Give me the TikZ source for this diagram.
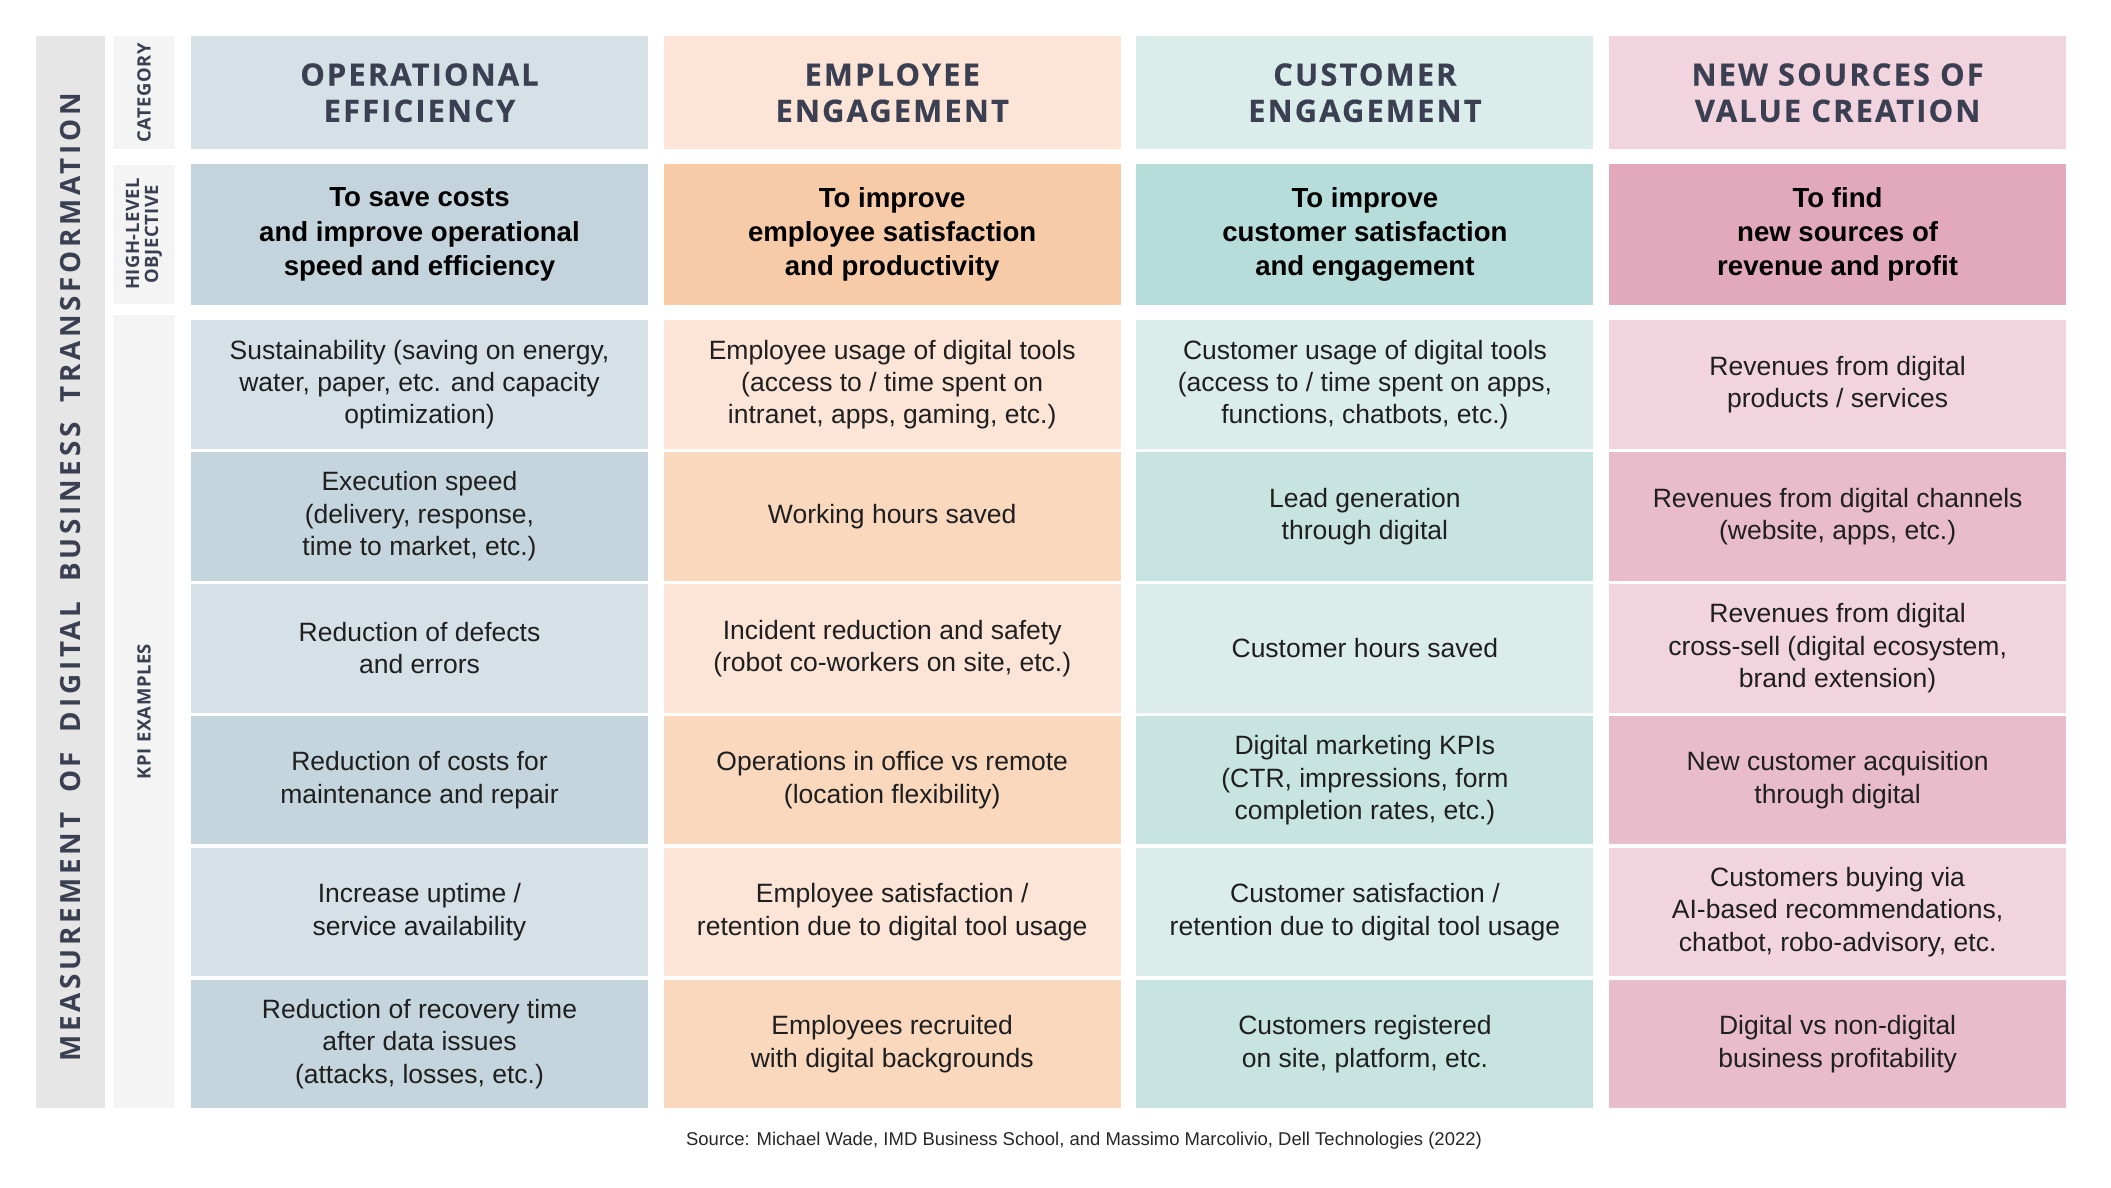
\documentclass[tikz,border=0pt]{standalone}
\usepackage{fontspec}
\setmainfont{Liberation Sans}
\newfontfamily\capsfont[LetterSpace=7,FakeBold=0.5]{Open Sans}
\newfontfamily\sidefont[LetterSpace=13.5,WordSpace=1.8]{Open Sans}
\newfontfamily\tagfont[LetterSpace=3]{Open Sans}
\usepackage{tikz}
\usetikzlibrary{positioning}
\definecolor{ink}{RGB}{59,63,82}
\definecolor{opA}{RGB}{214,225,231}
\definecolor{opB}{RGB}{196,213,221}
\definecolor{opO}{RGB}{195,212,220}
\definecolor{emA}{RGB}{252,228,214}
\definecolor{emB}{RGB}{249,216,190}
\definecolor{emO}{RGB}{248,203,168}
\definecolor{cuA}{RGB}{219,237,235}
\definecolor{cuB}{RGB}{199,228,225}
\definecolor{cuO}{RGB}{182,221,217}
\definecolor{nvA}{RGB}{242,212,223}
\definecolor{nvB}{RGB}{233,188,203}
\definecolor{nvO}{RGB}{226,168,187}
\definecolor{barA}{RGB}{230,230,230}
\definecolor{barB}{RGB}{244,244,244}
\begin{document}
\begin{tikzpicture}[x=1pt,y=-1pt,align=center,
    every node/.style={inner sep=0pt,outer sep=0pt},
    head/.style={minimum width=457pt,minimum height=113pt,text=ink,
        font=\capsfont\bfseries\fontsize{30.8}{36.3}\selectfont},
    goal/.style={minimum width=457pt,minimum height=141pt,
        font=\bfseries\fontsize{27.6}{34.3}\selectfont},
    cell/.style={minimum width=457pt,minimum height=128.4pt,text=black!88,
        font=\fontsize{26.5}{32.3}\selectfont},
    tag/.style={rotate=90,minimum height=62pt,fill=barB,text=ink,
        font=\tagfont\bfseries\fontsize{18.4}{19}\selectfont}]
    \useasboundingbox (0,0) rectangle (2111,1187);
    \node[fill=barA,rotate=90,minimum width=1072pt,minimum height=69pt] (side) at (70.5,572) {};
    \node[rotate=90,text=ink,font=\sidefont\bfseries\fontsize{27.8}{30}\selectfont] (sidetxt) at (70.5,577.5)
        {MEASUREMENT OF DIGITAL BUSINESS TRANSFORMATION};
    \node[tag,minimum width=113pt] (tcat) at (144,92.7) {CATEGORY};
    \node[tag,minimum width=139pt] (tobj) at (144,234) {HIGH-LEVEL\\OBJECTIVE};
    \node[tag,minimum width=793pt] (tkpi) at (144,711.5) {KPI EXAMPLES};

    \node[head,fill=opA] (h1) at (419.5,92.7) {OPERATIONAL\\EFFICIENCY};
    \node[head,fill=emA,right=15.7pt of h1] (h2) {EMPLOYEE\\ENGAGEMENT};
    \node[head,fill=cuA,right=15.7pt of h2] (h3) {CUSTOMER\\ENGAGEMENT};
    \node[head,fill=nvA,right=15.7pt of h3] (h4) {NEW SOURCES OF\\VALUE CREATION};

    \node[goal,fill=opO] (g1) at (419.5,234.5) {To save costs\\and improve operational\\speed and efficiency};
    \node[goal,fill=emO,right=15.7pt of g1] (g2) {To improve\\employee satisfaction\\and productivity};
    \node[goal,fill=cuO,right=15.7pt of g2] (g3) {To improve\\customer satisfaction\\and engagement};
    \node[goal,fill=nvO,right=15.7pt of g3] (g4) {To find\\new sources of\\revenue and profit};

    \node[cell,fill=opA] (k11) at (419.5,384.5) {Sustainability (saving on energy,\\water, paper, etc. and capacity\\optimization)};
    \node[cell,fill=opB,below=3.5pt of k11] (k12) {Execution speed\\(delivery, response,\\time to market, etc.)};
    \node[cell,fill=opA,below=3.5pt of k12] (k13) {Reduction of defects\\and errors};
    \node[cell,fill=opB,below=3.5pt of k13] (k14) {Reduction of costs for\\maintenance and repair};
    \node[cell,fill=opA,below=3.5pt of k14] (k15) {Increase uptime /\\service availability};
    \node[cell,fill=opB,below=3.5pt of k15] (k16) {Reduction of recovery time\\after data issues\\(attacks, losses, etc.)};

    \node[cell,fill=emA,right=15.7pt of k11] (k21) {Employee usage of digital tools\\(access to / time spent on\\intranet, apps, gaming, etc.)};
    \node[cell,fill=emB,below=3.5pt of k21] (k22) {Working hours saved};
    \node[cell,fill=emA,below=3.5pt of k22] (k23) {Incident reduction and safety\\(robot co-workers on site, etc.)};
    \node[cell,fill=emB,below=3.5pt of k23] (k24) {Operations in office vs remote\\(location flexibility)};
    \node[cell,fill=emA,below=3.5pt of k24] (k25) {Employee satisfaction /\\retention due to digital tool usage};
    \node[cell,fill=emB,below=3.5pt of k25] (k26) {Employees recruited\\with digital backgrounds};

    \node[cell,fill=cuA,right=15.7pt of k21] (k31) {Customer usage of digital tools\\(access to / time spent on apps,\\functions, chatbots, etc.)};
    \node[cell,fill=cuB,below=3.5pt of k31] (k32) {Lead generation\\through digital};
    \node[cell,fill=cuA,below=3.5pt of k32] (k33) {Customer hours saved};
    \node[cell,fill=cuB,below=3.5pt of k33] (k34) {Digital marketing KPIs\\(CTR, impressions, form\\completion rates, etc.)};
    \node[cell,fill=cuA,below=3.5pt of k34] (k35) {Customer satisfaction /\\retention due to digital tool usage};
    \node[cell,fill=cuB,below=3.5pt of k35] (k36) {Customers registered\\on site, platform, etc.};

    \node[cell,fill=nvA,right=15.7pt of k31] (k41) {Revenues from digital\\products / services};
    \node[cell,fill=nvB,below=3.5pt of k41] (k42) {Revenues from digital channels\\(website, apps, etc.)};
    \node[cell,fill=nvA,below=3.5pt of k42] (k43) {Revenues from digital\\cross-sell (digital ecosystem,\\brand extension)};
    \node[cell,fill=nvB,below=3.5pt of k43] (k44) {New customer acquisition\\through digital};
    \node[cell,fill=nvA,below=3.5pt of k44] (k45) {Customers buying via\\AI-based recommendations,\\chatbot, robo-advisory, etc.};
    \node[cell,fill=nvB,below=3.5pt of k45] (k46) {Digital vs non-digital\\business profitability};

    \node[text=black!85,font=\fontsize{18.5}{22}\selectfont] (src) at (1084,1141)
        {Source: Michael Wade, IMD Business School, and Massimo Marcolivio, Dell Technologies (2022)};
\end{tikzpicture}
\end{document}
